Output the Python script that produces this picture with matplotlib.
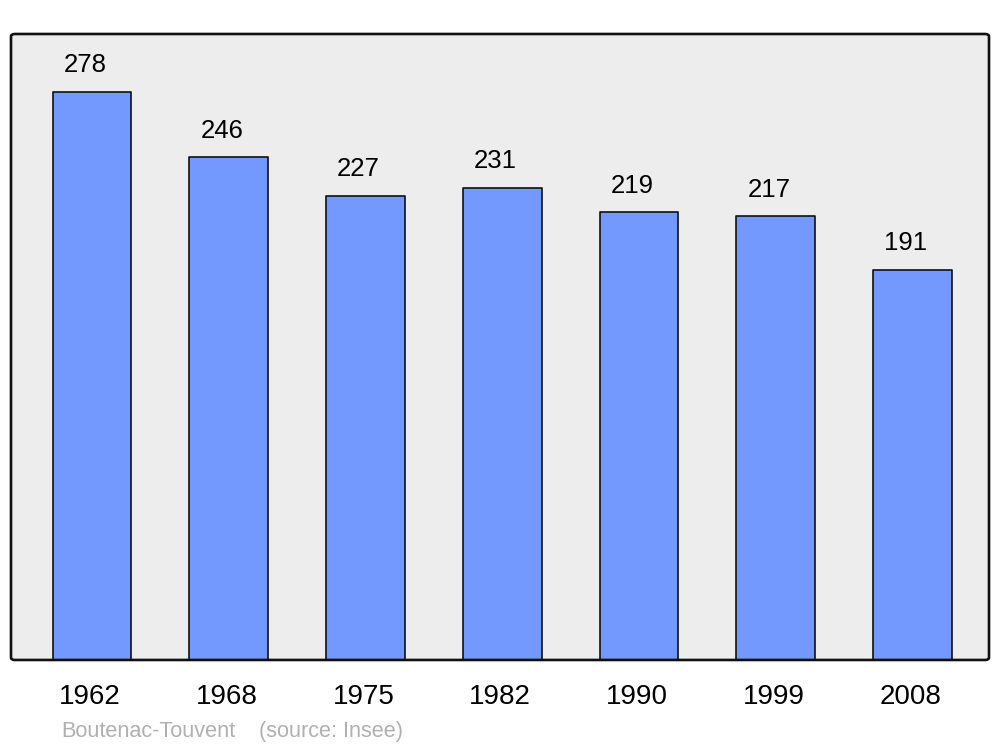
import matplotlib
matplotlib.use("Agg")
import matplotlib.pyplot as plt
from matplotlib.patches import FancyBboxPatch
from matplotlib.transforms import ScaledTranslation

years = ["1962", "1968", "1975", "1982", "1990", "1999", "2008"]
population = [278, 246, 227, 231, 219, 217, 191]
commune = "Boutenac-Touvent"
source = "(source: Insee)"

plt.rcParams['font.family'] = ['Liberation Sans', 'DejaVu Sans']

fig = plt.figure(figsize=(10, 7.47), dpi=100)
ax = fig.add_axes([0.011, 0.1165, 0.978, 0.838])
ax.patch.set_visible(False)
for s in ax.spines.values():
    s.set_visible(False)

x = list(range(len(years)))
bars = ax.bar(x, population, width=0.575, color="#7399ff", edgecolor="#111111",
              linewidth=1.2, zorder=2)
for b in bars:
    b.set_joinstyle('round')

ax.set_xlim(-0.592, 6.559)
ax.set_ylim(0, 306.3)
ax.set_yticks([])
ax.set_xticks(x)
ax.set_xticklabels(years, fontsize=20)
ax.tick_params(axis='x', length=0, pad=17.5)
for lbl in ax.get_xticklabels():
    lbl.set_transform(lbl.get_transform() + ScaledTranslation(-0.02, 0, fig.dpi_scale_trans))

for xi, v in zip(x, population):
    ax.annotate(str(v), (xi, v), xytext=(-5, 10.5), textcoords='offset points',
                ha='center', va='bottom', fontsize=18.5, color='black')

bg = FancyBboxPatch((0, 0), 1, 1, boxstyle="round,pad=0,rounding_size=0.004",
                    transform=ax.transAxes, facecolor="#ededed", edgecolor="none",
                    zorder=0, clip_on=False)
ax.add_patch(bg)
fr = FancyBboxPatch((0, 0), 1, 1, boxstyle="round,pad=0,rounding_size=0.004",
                    transform=ax.transAxes, facecolor="none", edgecolor="#111111",
                    linewidth=1.9, zorder=3, clip_on=False)
ax.add_patch(fr)

fig.text(0.061, 0.0134, commune, fontsize=15.6, color="#b0b0b0", ha='left', va='baseline')
fig.text(0.259, 0.0134, source, fontsize=15.6, color="#b0b0b0", ha='left', va='baseline')

fig.savefig("out.png", dpi=100)
